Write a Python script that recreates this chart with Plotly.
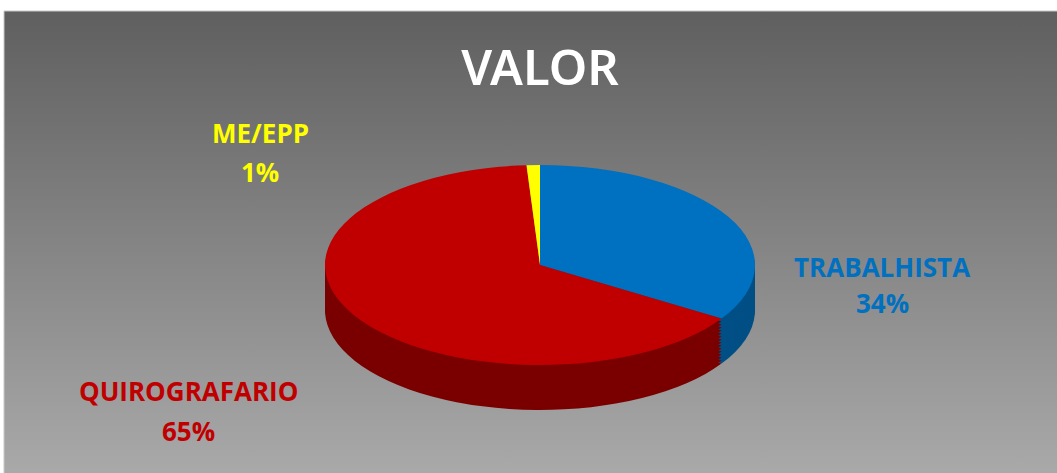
import base64, json
import plotly.graph_objects as go

# ---- data ----
categories = ["TRABALHISTA", "QUIROGRAFARIO", "ME/EPP"]
values = [34, 65, 1]
slice_colors = ["#0070C0", "#C00000", "#FFFF00"]
side_colors = ["#004F85", "#7A0000", "#9A9A00"]
label_colors = ["#0070C0", "#C00000", "#FFFF00"]
title_text = "VALOR"

W, H = 1057, 473
total = sum(values)
pcts = [round(v * 100 / total) for v in values]

# label positions in pixels (x center, name line y, percent line y)
label_pos = {
    "TRABALHISTA": (882, 267, 303),
    "QUIROGRAFARIO": (188, 391, 431),
    "ME/EPP": (260, 133, 172),
}

# background gradient as svg image
svg = ('<svg xmlns="http://www.w3.org/2000/svg" width="100" height="100" preserveAspectRatio="none">'
       '<defs><linearGradient id="g" x1="0" y1="0" x2="0" y2="1">'
       '<stop offset="0" stop-color="#5F5F5F"/><stop offset="1" stop-color="#A9A9A9"/>'
       '</linearGradient></defs><rect width="100" height="100" fill="url(#g)"/></svg>')
src = "data:image/svg+xml;base64," + base64.b64encode(svg.encode()).decode()

fig = go.Figure()

cx, rx = 540, 215
dom_x = [(cx - rx) / W, (cx + rx) / W]
shifts = list(range(45, 0, -3)) + [0]
for sh in shifts:
    fig.add_trace(go.Pie(
        labels=categories, values=values, sort=False, direction="clockwise",
        rotation=0, textinfo="none", hoverinfo="label+percent",
        marker=dict(colors=side_colors if sh else slice_colors, line=dict(width=0)),
        domain=dict(x=dom_x, y=[0, 1]), showlegend=False,
    ))

annotations = []
for cat, p, col in zip(categories, pcts, label_colors):
    x, y1, y2 = label_pos[cat]
    for txt, yy in ((cat, y1), (f"{p}%", y2)):
        annotations.append(dict(
            text=f"<b>{txt}</b>", x=x / W, y=1 - yy / H, xref="paper", yref="paper",
            xanchor="center", yanchor="middle", showarrow=False,
            font=dict(family="Open Sans", size=26, color=col)))

fig.update_layout(
    width=W, height=H, margin=dict(l=0, r=0, t=0, b=0),
    paper_bgcolor="white", plot_bgcolor="white",
    title=dict(text=title_text, x=540 / W, xanchor="center", y=1 - 68 / H, yanchor="middle",
               yref="paper", font=dict(family="Noto Sans", size=49, weight=600, color="white")),
    images=[dict(source=src, xref="paper", yref="paper", x=4 / W, y=1 - 11 / H,
                 sizex=1 - 4 / W, sizey=1 - 11 / H, sizing="stretch",
                 xanchor="left", yanchor="top", layer="below")],
    shapes=[dict(type="rect", xref="paper", yref="paper", x0=4 / W, x1=1.01, y0=-0.01,
                 y1=1 - 11 / H, line=dict(color="#C8C8C8", width=1), layer="below")],
    annotations=annotations,
)

target_cy = 265
scale_y = 100 / 215
js = """
document.body.style.margin = '0';
var gd = document.getElementById('{plot_id}');
var shifts = %s;
function squash(){
  var traces = gd.querySelectorAll('.pielayer .trace');
  traces.forEach(function(t, i){
    t.removeAttribute('transform');
    var b = t.getBBox();
    var cy = b.y + b.height / 2;
    var s = %f;
    var ty = %f + shifts[i] - s * cy;
    t.setAttribute('transform', 'translate(0,' + ty + ') scale(1,' + s + ')');
  });
}
squash();
gd.on('plotly_afterplot', squash);
""" % (json.dumps(shifts), scale_y, target_cy)

fig.write_html("out.html", post_script=js, config={"displayModeBar": False})
